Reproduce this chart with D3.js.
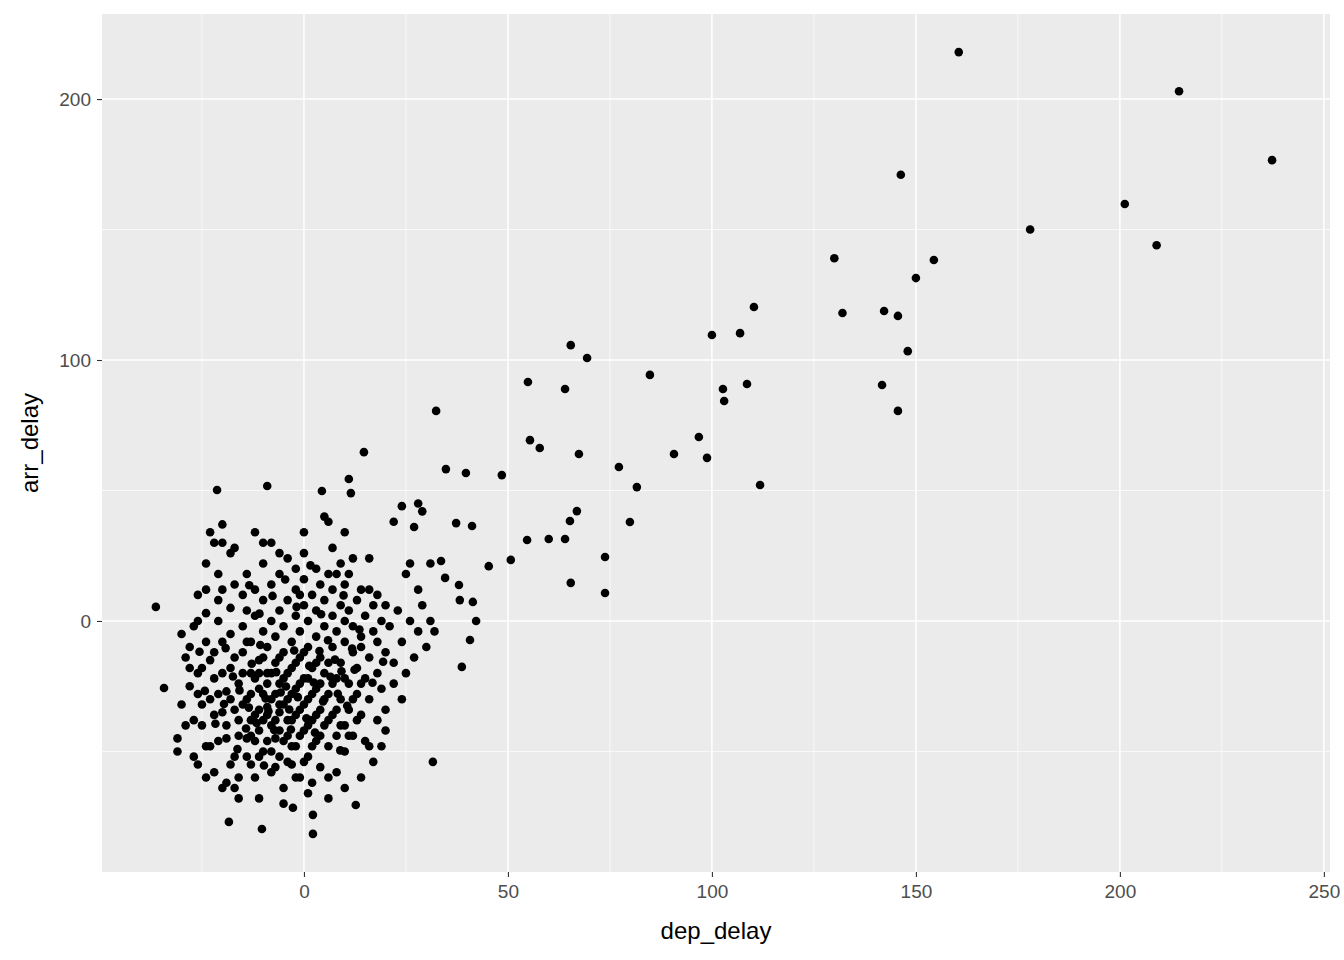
<!DOCTYPE html>
<html><head><meta charset="utf-8">
<script src="https://cdn.jsdelivr.net/npm/d3@7"></script>
<style>body{margin:0;background:#fff;font-family:Arial,"Liberation Sans",sans-serif;}</style>
</head><body><div id="chart"></div>
<script>
// outliers
var farPoints = [[237.3,176.6],[214.5,203],[160.5,218],[201.2,159.8],[209,144],[178,150],[146.3,171],[130,139],[154.4,138.3],
 [150,131.4],[132,118],[142.2,118.8],[145.6,116.9],[148,103.4],[141.7,90.4],[145.6,80.5],[110.3,120.3],[100,109.6],[106.9,110.3],
 [102.7,88.9],[103,84.3],[108.6,90.8],[111.8,52.1],[96.8,70.5],[98.8,62.5],[90.7,64],[84.8,94.3],[81.6,51.3],[77.2,59],[79.9,37.9],
 [73.8,24.5],[73.8,10.7],[65.4,105.7],[69.4,100.8],[64,88.9],[54.9,91.6],[55.4,69.3],[57.8,66.3],[67.4,64],[66.9,42.1],[65.2,38.3],
 [64,31.4],[60,31.4],[54.7,31],[65.4,14.6],[48.5,55.9],[50.7,23.4],[45.3,21],[32.4,80.5],[34.8,58.2],[39.7,56.7],[37.3,37.5],
 [41.2,36.4],[33.6,23],[34.6,16.5],[38,13.8],[38.2,8],[41.4,7.3],[42.2,0],[40.7,-7.3],[38.7,-17.6],[31.6,-54],[14.7,64.7],[11,54.4],
 [11.5,49],[4.4,49.8],[-9,51.7],[-21.3,50.2],[-36.3,5.4],[-34.3,-25.7],[2.2,-81.6],[-10.3,-79.7],[-18.4,-77],[12.7,-70.5],[2.2,-74.3],[-2.7,-71.6]];
// dense cluster, estimated
var clusterPoints = [
 [-30,-5],[-31,-45],[-31,-50],[-29,-14],[-28,-10],[-27,-2],[-28,-25],[-26,-28],[-27,-38],[-26,-55],[-25,-40],[-25,-18],[-24,-8],[-24,3],
 [-24,12],[-24,22],[-23,34],[-23,-30],[-23,-48],[-22,-58],[-22,-22],[-22,-12],[-21,0],[-21,8],[-21,18],[-20,30],[-20,37],[-20,-35],
 [-19,-45],[-19,-62],[-19,-27],[-18,-18],[-18,-5],[-18,5],[-17,14],[-17,28],[-17,-52],[-16,-68],[-16,-38],[-16,-24],[-15,-12],[-15,-2],
 [-15,10],[-14,18],[-14,-30],[-14,-45],[-13,-55],[-13,-20],[-13,-8],[-12,2],[-12,12],[-12,-36],[-12,-60],[-11,-42],[-11,-26],[-11,-15],
 [-10,-4],[-10,8],[-10,22],[-10,30],[-10,-50],[-9,-33],[-9,-20],[-9,-10],[-8,0],[-8,14],[-8,-40],[-8,-58],[-7,-45],[-7,-28],[-7,-16],
 [-7,-6],[-6,4],[-6,18],[-6,-35],[-6,-52],[-5,-64],[-5,-22],[-5,-12],[-5,-2],[-4,8],[-4,24],[-4,-30],[-4,-44],[-3,-55],[-3,-38],
 [-3,-18],[-3,-8],[-2,2],[-2,12],[-2,20],[-2,-26],[-2,-48],[-1,-60],[-1,-34],[-1,-14],[-1,-4],[0,6],[0,16],[0,26],[0,-22],[0,-42],
 [1,-52],[1,-30],[1,-10],[1,0],[2,10],[2,-18],[2,-38],[2,-62],[3,-46],[3,-26],[3,-6],[3,4],[4,14],[4,-14],[4,-34],[4,-56],[5,-40],
 [5,-20],[5,-2],[5,8],[5,40],[6,18],[6,-28],[6,-48],[7,-10],[7,2],[7,12],[7,28],[7,-36],[8,-22],[8,-44],[8,-58],[8,-4],[9,6],
 [9,22],[9,-16],[9,-30],[10,-50],[10,-40],[10,-8],[10,0],[10,14],[11,-24],[11,-34],[11,4],[11,18],[12,-12],[12,-44],[12,-2],
 [13,8],[13,-28],[13,-18],[14,-36],[14,-6],[14,12],[15,-22],[15,2],[15,-46],[16,24],[16,-14],[16,-30],[17,-4],[17,6],[17,-54],
 [18,-20],[18,-38],[18,-8],[19,0],[19,-26],[19,-48],[20,-12],[20,6],[20,-34],[21,-2],[22,38],[22,-16],[23,4],[24,44],[24,-8],
 [25,18],[25,-20],[26,22],[26,0],[27,36],[27,-14],[28,45],[28,12],[28,-4],[29,42],[29,6],[30,-10],[31,0],[31,22],[32,-4],
 [-26,-20],[-25,-32],[-24,-48],[-23,-15],[-22,-36],[-21,-28],[-20,-20],[-20,-8],[-19,-40],[-18,-30],[-18,-55],[-17,-14],[-16,-44],
 [-15,-32],[-15,-20],[-14,-52],[-14,-8],[-13,-38],[-13,-28],[-12,-46],[-12,-22],[-11,-34],[-11,-52],[-10,-28],[-10,-38],[-10,-14],
 [-9,-46],[-9,-24],[-8,-30],[-8,-20],[-8,-50],[-7,-38],[-7,-56],[-6,-24],[-6,-42],[-6,-14],[-5,-32],[-5,-46],[-4,-20],[-4,-38],
 [-3,-28],[-3,-48],[-2,-36],[-2,-16],[-1,-24],[-1,-44],[0,-32],[0,-12],[1,-40],[1,-22],[2,-28],[2,-48],[3,-36],[3,-16],[4,-24],
 [4,-44],[5,-30],[6,-38],[6,-16],[7,-24],[8,-34],[9,-40],[10,-22],[11,-44],[12,-30],[13,-38],[14,-24],[-9,-36],[-13,-44],[-6,-32],
 [-17,-34],[-11,-20],[-4,-54],[0,-54],[-2,-60],[6,-60],[-20,-64],[-16,-60],[-24,-60],[10,-64],[14,-60],[16,-48],[-28,-18],[-30,-32],
 [-26,10],[-22,30],[-18,26],[-12,34],[-6,26],[0,34],[6,38],[10,34],[12,24],[14,-10],[16,12],[18,10],[20,-42],[-1,10],[3,20],[8,18],
 [-8,30],[-14,4],[-20,12],[-26,0],[-29,-40],[-27,-52],[-21,-46],[-17,-64],[-11,-68],[-5,-70],[1,-66],[6,-68],[22,-24],[24,-30],
 [-13.5,-33.2],[-11.6,-39.1],[-9.4,-29.7],[-7.3,-41.8],[-5.7,-27.4],[-3.6,-33.9],[-1.5,-29.2],[0.6,-37.3],[2.4,-23.6],[4.7,-30.8],
 [6.5,-21.4],[8.3,-27.9],[10.6,-32.5],[12.4,-18.7],[-15.8,-26.6],[-17.4,-21.3],[-19.6,-31.8],[-14.2,-41.2],[-8.7,-34.6],[-4.4,-25.1],
 [1.3,-17.2],[3.8,-11.5],[7.6,-14.8],[9.2,-19.3],[-6.8,-19.6],[-2.4,-11.3],[-12.8,-16.4],[-10.7,-9.2],[5.9,-7.4],[11.8,-10.6],
 [-16.3,-49.1],[-9.8,-55.4],[-3.2,-41.6],[2.7,-42.8],[8.9,-49.6],[-21.7,-39.4],[-24.3,-26.8],[13.6,-3.3],[16.8,-23.7],[19.4,-15.6],
 [-1.8,5.4],[4.2,2.6],[-7.7,9.6],[-13.4,13.7],[1.6,21.3],[-4.6,15.9],[9.7,9.8],[-10.9,2.8],[-19.2,-10.4],[-25.6,-11.8]
];
var xTicks = [0,50,100,150,200,250], xMinor = [-25,25,75,125,175,225];
var yTicks = [0,100,200], yMinor = [-50,50,150];

var W = 1344, H = 960, m = {l:102, r:14, t:14, b:88};
var svg = d3.select("#chart").append("svg").attr("width",W).attr("height",H);
var x = d3.scaleLinear().domain([-49.5,251.5]).range([m.l, W-m.r]);
var y = d3.scaleLinear().domain([-96.2,232.6]).range([H-m.b, m.t]);

svg.append("rect").attr("x",m.l).attr("y",m.t).attr("width",W-m.r-m.l).attr("height",H-m.b-m.t).attr("fill","#EBEBEB");
var g = svg.append("g");
g.selectAll(".xmin").data(xMinor).enter().append("line").attr("x1",x).attr("x2",x).attr("y1",m.t).attr("y2",H-m.b).attr("stroke","#fff").attr("stroke-width",0.7);
g.selectAll(".ymin").data(yMinor).enter().append("line").attr("y1",y).attr("y2",y).attr("x1",m.l).attr("x2",W-m.r).attr("stroke","#fff").attr("stroke-width",0.7);
g.selectAll(".xmaj").data(xTicks).enter().append("line").attr("x1",x).attr("x2",x).attr("y1",m.t).attr("y2",H-m.b).attr("stroke","#fff").attr("stroke-width",1.5);
g.selectAll(".ymaj").data(yTicks).enter().append("line").attr("y1",y).attr("y2",y).attr("x1",m.l).attr("x2",W-m.r).attr("stroke","#fff").attr("stroke-width",1.5);

svg.append("g").selectAll("circle").data(farPoints.concat(clusterPoints)).enter().append("circle")
  .attr("cx",function(d){return x(d[0]);}).attr("cy",function(d){return y(d[1]);}).attr("r",4.3).attr("fill","#000");

var xa = svg.append("g").attr("transform","translate(0,"+(H-m.b)+")").call(d3.axisBottom(x).tickValues(xTicks).tickSize(5).tickPadding(8));
var ya = svg.append("g").attr("transform","translate("+m.l+",0)").call(d3.axisLeft(y).tickValues(yTicks).tickSize(5).tickPadding(6));
[xa,ya].forEach(function(a){
  a.select(".domain").remove();
  a.selectAll("line").attr("stroke","#333").attr("stroke-width",1.1);
  a.selectAll("text").attr("fill","#4D4D4D").style("font-size","19px").style("font-family","Arial,'Liberation Sans',sans-serif");
});
svg.append("text").attr("x",(m.l+W-m.r)/2).attr("y",939).attr("text-anchor","middle").style("font-size","24px").text("dep_delay");
svg.append("text").attr("transform","translate(38,"+((m.t+H-m.b)/2)+") rotate(-90)").attr("text-anchor","middle").style("font-size","24px").text("arr_delay");
</script></body></html>
